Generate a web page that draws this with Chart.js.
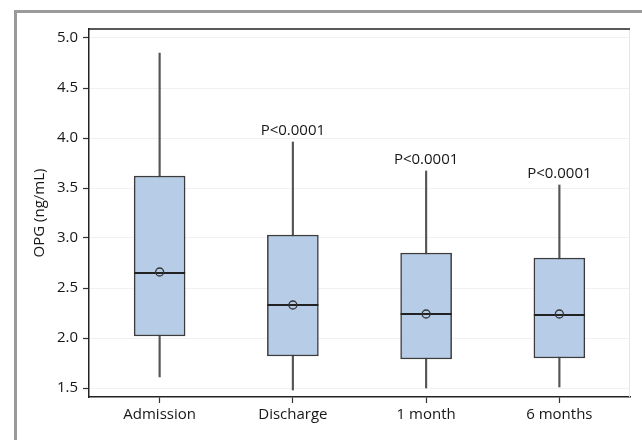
<!DOCTYPE html>
<html>
<head>
<meta charset="utf-8">
<script src="https://cdn.jsdelivr.net/npm/chart.js@4"></script>
<style>
  body { margin: 0; background: #fff; }
  #wrap { position: relative; width: 642px; height: 440px; overflow: hidden; }
  #frame { position: absolute; left: 14px; top: 10px; width: 700px; height: 500px;
           border-left: 3px solid #9a9a9a; border-top: 3px solid #9a9a9a; }
  canvas { position: absolute; left: 0; top: 0; }
</style>
</head>
<body>
<div id="wrap">
  <div id="frame"></div>
  <canvas id="chart" width="642" height="440"></canvas>
</div>
<script>
const categories = ['Admission', 'Discharge', '1 month', '6 months'];
const whiskerMin = [1.61, 1.48, 1.50, 1.51];
const q1 = [2.02, 1.82, 1.79, 1.80];
const median = [2.65, 2.33, 2.24, 2.23];
const mean = [2.66, 2.33, 2.24, 2.24];
const q3 = [3.62, 3.03, 2.85, 2.80];
const whiskerMax = [4.85, 3.96, 3.67, 3.53];
const pLabels = ['', 'P<0.0001', 'P<0.0001', 'P<0.0001'];
const yTicks = [1.5, 2.0, 2.5, 3.0, 3.5, 4.0, 4.5, 5.0];

const font = { family: "'Open Sans', 'Noto Sans', sans-serif", size: 15 };
const textColor = '#161616';

const pos = (i) => i + 1;

const annotate = {
    id: 'annotate',
    beforeDatasetsDraw(chart) {
        const { ctx, chartArea: a } = chart;
        ctx.save();
        ctx.strokeStyle = '#e6e6e6';
        ctx.lineWidth = 1;
        ctx.beginPath();
        ctx.moveTo(a.right - 0.5, a.top);
        ctx.lineTo(a.right - 0.5, a.bottom);
        ctx.stroke();
        ctx.restore();
    },
    afterDraw(chart) {
        const { ctx, chartArea: a, scales } = chart;
        ctx.save();
        ctx.strokeStyle = '#222';
        ctx.lineWidth = 1.5;
        ctx.beginPath();
        ctx.moveTo(a.left, a.top);
        ctx.lineTo(a.right, a.top);
        ctx.stroke();
        ctx.fillStyle = textColor;
        ctx.font = `${font.size}px ${font.family}`;
        ctx.textAlign = 'center';
        ctx.textBaseline = 'alphabetic';
        pLabels.forEach((t, i) => {
            if (!t) return;
            const x = scales.x.getPixelForValue(pos(i));
            const y = scales.y.getPixelForValue(whiskerMax[i]) - 7;
            ctx.fillText(t, x, y);
        });
        ctx.restore();
    }
};

new Chart(document.getElementById('chart'), {
    type: 'bar',
    data: {
        datasets: [
            {
                type: 'scatter',
                data: mean.map((v, i) => ({ x: pos(i), y: v })),
                pointStyle: 'circle',
                radius: 4,
                borderColor: '#333',
                backgroundColor: 'rgba(0,0,0,0)',
                borderWidth: 1.3,
                order: 0
            },
            {
                type: 'scatter',
                data: median.map((v, i) => ({ x: pos(i), y: v })),
                pointStyle: 'line',
                radius: 25.5,
                borderColor: '#222',
                borderWidth: 2,
                order: 1
            },
            {
                data: categories.map((c, i) => ({ x: pos(i), y: [q1[i], q3[i]] })),
                backgroundColor: '#b7cce7',
                borderColor: '#3c3c3c',
                borderWidth: 1.5,
                borderSkipped: false,
                barThickness: 51,
                grouped: false,
                order: 2
            },
            {
                data: categories.map((c, i) => ({ x: pos(i), y: [whiskerMin[i], whiskerMax[i]] })),
                backgroundColor: '#555',
                borderWidth: 0,
                barThickness: 1.5,
                grouped: false,
                order: 3
            }
        ]
    },
    plugins: [annotate],
    options: {
        responsive: false,
        animation: false,
        layout: { autoPadding: false, padding: { left: 0, top: 29, right: 12, bottom: 0 } },
        plugins: { legend: { display: false }, tooltip: { enabled: false } },
        scales: {
            x: {
                type: 'linear',
                offset: false,
                min: 0.47,
                max: 4.53,
                afterBuildTicks: (s) => { s.ticks = categories.map((c, i) => ({ value: pos(i) })); },
                afterFit: (s) => { s.height = 43; s.paddingLeft = 0; s.paddingRight = 0; },
                ticks: {
                    callback: (v) => categories[v - 1],
                    color: textColor,
                    font: font,
                    padding: 3,
                    maxRotation: 0,
                    autoSkip: false
                },
                grid: { offset: false, drawOnChartArea: false, tickLength: 6, tickColor: '#333', tickWidth: 1.2 },
                border: { color: '#222', width: 1.5 }
            },
            y: {
                type: 'linear',
                min: 1.41,
                max: 5.09,
                afterBuildTicks: (s) => { s.ticks = yTicks.map((v) => ({ value: v })); },
                afterFit: (s) => { s.width = 89; s.paddingTop = 0; s.paddingBottom = 0; },
                ticks: {
                    callback: (v) => v.toFixed(1),
                    color: textColor,
                    font: font,
                    padding: 5
                },
                grid: { color: '#f1f1f1', lineWidth: 1, tickLength: 6, tickColor: '#333', tickWidth: 1.2 },
                border: { color: '#222', width: 1.5 },
                title: {
                    display: true,
                    text: 'OPG (ng/mL)',
                    color: textColor,
                    font: font,
                    padding: { top: 31, bottom: 0 }
                }
            }
        }
    }
});
</script>
</body>
</html>
